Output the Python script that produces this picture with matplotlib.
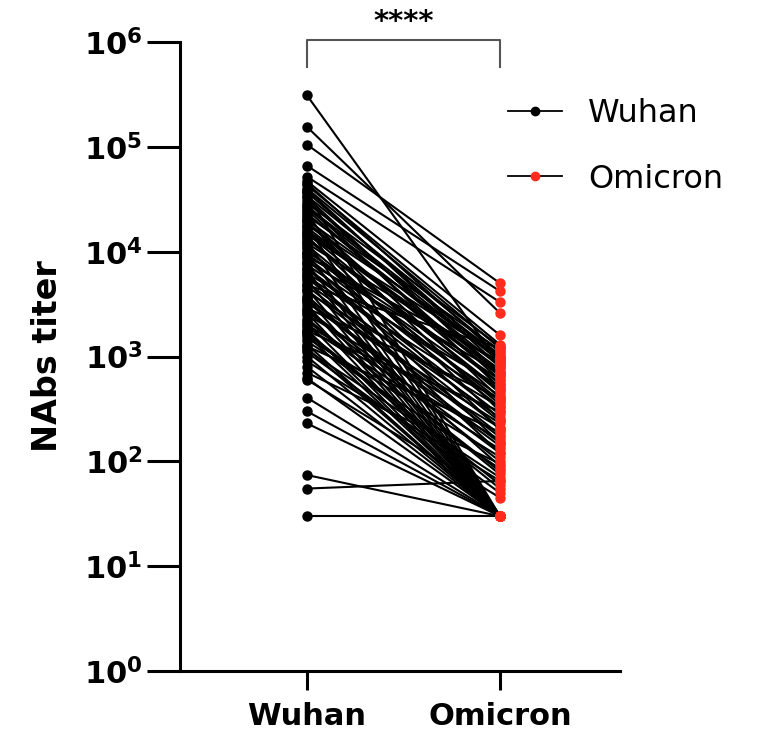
import matplotlib
matplotlib.use("Agg")
import matplotlib.pyplot as plt
from matplotlib.lines import Line2D

# paired NAbs titers per subject (Wuhan -> Omicron)
groups = ["Wuhan", "Omicron"]
wuhan = [
    310000, 155000, 105000, 66000, 52000, 47000, 43000, 40000, 37000, 36000,
    34000, 31000, 29000, 28000, 27000, 25000, 24000, 23000, 22000, 21000,
    20000, 19500, 18000, 17500, 17000, 16000, 15000, 14500, 14000, 13000,
    12500, 12000, 11500, 11000, 10000, 9800, 9500, 9000, 8500, 8000,
    7800, 7500, 7000, 6600, 6200, 6000, 5800, 5400, 5000, 4800,
    4700, 4400, 4100, 3800, 3600, 3500, 3300, 3100, 2900, 2700,
    2600, 2500, 2300, 2100, 2000, 1900, 1800, 1750, 1700, 1600,
    1500, 1400, 1300, 1250, 1200, 1150, 1100, 1000, 900, 800,
    700, 620, 600, 405, 300, 230, 74, 55, 30,
    45000, 39000, 33000, 26000, 19000, 15500, 13500, 10500, 8800, 6800,
    5600, 4300, 3400, 2800, 2200, 1650,
]
omicron = [
    850, 2600, 5000, 4200, 3300, 1600, 1300, 1200, 900, 30,
    1100, 700, 1250, 500, 1000, 600, 30, 800, 1150, 400,
    950, 300, 1050, 30, 650, 750, 450, 1000, 250, 550,
    30, 850, 350, 200, 600, 30, 480, 900, 150, 700,
    30, 420, 280, 30, 520, 120, 380, 30, 260, 1200,
    180, 30, 330, 90, 30, 230, 140, 30, 400, 100,
    30, 210, 75, 30, 160, 130, 30, 300, 60, 30,
    110, 85, 30, 190, 30, 70, 50, 30, 65, 30,
    95, 30, 45, 30, 30, 30, 30, 65, 30,
    1000, 800, 650, 900, 550, 700, 480, 380, 330, 240,
    210, 170, 150, 120, 80, 55,
]
ytick_vals = [1, 10, 100, 1000, 10000, 100000, 1000000]
ytick_labels = [r"$\mathbf{10^{%d}}$" % i for i in range(7)]

RED = "#ff2b1c"

plt.rcParams["font.family"] = ["DejaVu Sans"]
plt.rcParams["mathtext.fontset"] = "dejavusans"

fig = plt.figure(figsize=(7.64, 7.35), dpi=100)
ax = fig.add_axes([180 / 764, 1 - 671 / 735, 440 / 764, 629 / 735])

for w, o in zip(wuhan, omicron):
    ax.plot([0, 1], [w, o], color="black", lw=1.5, zorder=2)
ax.plot([0] * len(wuhan), wuhan, "o", color="black", ms=6.5, zorder=3, ls="none")
ax.plot([1] * len(omicron), omicron, "o", color=RED, ms=6.5, zorder=3, ls="none")

ax.set_yscale("log")
ax.set_ylim(1, 1e6)
ax.set_xlim(-0.658, 1.622)
ax.set_yticks(ytick_vals)
ax.set_yticklabels(ytick_labels, fontsize=22)
ax.minorticks_off()
ax.set_xticks([0, 1])
ax.set_xticklabels(groups, fontsize=22, fontweight="bold")
ax.tick_params(axis="y", length=24, width=2.2, pad=3)
ax.tick_params(axis="x", length=14, width=2.2, pad=8)
ax.set_ylabel("NAbs titer", fontsize=24, fontweight="bold", labelpad=14)

for side in ["top", "right"]:
    ax.spines[side].set_visible(False)
for side in ["left", "bottom"]:
    ax.spines[side].set_linewidth(2.2)

# significance bracket
ax.plot([0, 0, 1, 1], [10 ** 5.76, 10 ** 6.02, 10 ** 6.02, 10 ** 5.76],
        color="#555555", lw=1.5, clip_on=False)
ax.text(0.5, 10 ** 6.06, "****", ha="center", va="bottom",
        fontsize=21, fontweight="bold")

handles = [
    Line2D([], [], color="black", lw=1.3, marker="o", ms=6, mfc="black", mec="black"),
    Line2D([], [], color="black", lw=1.3, marker="o", ms=6, mfc=RED, mec=RED),
]
fig.legend(handles, groups, loc="upper left", bbox_to_anchor=(508 / 764, 1 - 98 / 735),
           frameon=False, fontsize=23, handlelength=1.7, handletextpad=0.8,
           labelspacing=1.08, borderpad=0, borderaxespad=0)

fig.savefig("out.png", dpi=100)
